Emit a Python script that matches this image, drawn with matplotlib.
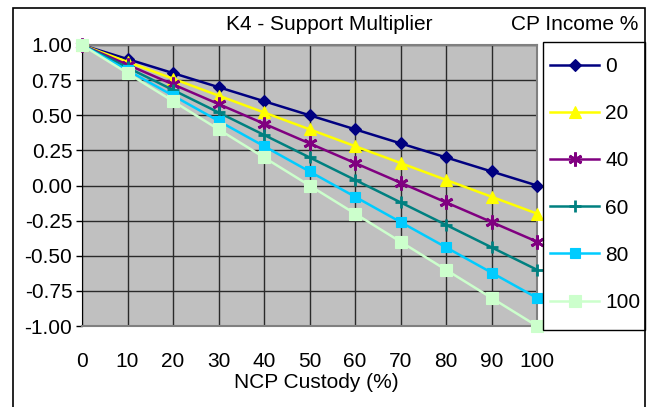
import matplotlib
matplotlib.use("Agg")
import matplotlib.pyplot as plt
from matplotlib.patches import Rectangle

plt.rcParams['font.family'] = ['Liberation Sans', 'DejaVu Sans']

# NCP custody on x, one series per CP income level
custody = [0, 10, 20, 30, 40, 50, 60, 70, 80, 90, 100]
inc_0 = [1.00, 0.90, 0.80, 0.70, 0.60, 0.50, 0.40, 0.30, 0.20, 0.10, 0.00]
inc_20 = [1.00, 0.88, 0.76, 0.64, 0.52, 0.40, 0.28, 0.16, 0.04, -0.08, -0.20]
inc_40 = [1.00, 0.86, 0.72, 0.58, 0.44, 0.30, 0.16, 0.02, -0.12, -0.26, -0.40]
inc_60 = [1.00, 0.84, 0.68, 0.52, 0.36, 0.20, 0.04, -0.12, -0.28, -0.44, -0.60]
inc_80 = [1.00, 0.82, 0.64, 0.46, 0.28, 0.10, -0.08, -0.26, -0.44, -0.62, -0.80]
inc_100 = [1.00, 0.80, 0.60, 0.40, 0.20, 0.00, -0.20, -0.40, -0.60, -0.80, -1.00]
labels = ['0', '20', '40', '60', '80', '100']
yticks = [1.00, 0.75, 0.50, 0.25, 0.00, -0.25, -0.50, -0.75, -1.00]

series = [inc_0, inc_20, inc_40, inc_60, inc_80, inc_100]
colors = ['#000080', '#FFFF00', '#800080', '#008080', '#00CCFF', '#CCFFCC']
markers = ['D', '^', (6, 2, 0), '+', 's', 's']
msizes = [6, 8, 10, 9, 7, 8]
FS = 15

W, H = 650, 407
fig = plt.figure(figsize=(6.5, 4.07), dpi=100)
ax = fig.add_axes([82 / W, 1 - 326 / H, 455 / W, 281 / H])
ax.set_facecolor('#C0C0C0')

for ys, c, m, ms, lab in zip(series, colors, markers, msizes, labels):
    ax.plot(custody, ys, color=c, marker=m, markersize=ms, lw=1.8,
            markeredgewidth=2 if m in ('+', (6, 2, 0)) else 0.8,
            markeredgecolor=c, label=lab, clip_on=False, zorder=3)

ax.set_xlim(0, 100)
ax.set_ylim(-1, 1)
ax.set_xticks(custody)
ax.set_yticks(yticks)
ax.set_yticklabels(['%.2f' % v for v in yticks])
ax.grid(True, color='#2a2a2a', lw=1)
ax.tick_params(axis='y', labelsize=FS, length=4, width=1, pad=3)
ax.tick_params(axis='x', labelsize=FS, length=0, pad=19)
for s in ['top', 'right', 'bottom']:
    ax.spines[s].set_color('#808080')
    ax.spines[s].set_linewidth(1.5)
ax.spines['left'].set_color('black')

fig.text(329 / W, 1 - 25 / H, 'K4 - Support Multiplier', fontsize=FS,
         ha='center', va='center')
fig.text(638 / W, 1 - 25 / H, 'CP Income %', fontsize=FS,
         ha='right', va='center')
fig.text(316 / W, 1 - 383 / H, 'NCP Custody (%)', fontsize=FS,
         ha='center', va='center')

# legend entries without frame; box drawn separately
fig.legend(loc='upper left', bbox_to_anchor=(544 / W, 1 - 51 / H),
           fontsize=FS, frameon=False,
           labelspacing=1.35, handlelength=2.35, handletextpad=0.3,
           borderpad=0.3, borderaxespad=0)
fig.patches.append(Rectangle((543 / W, 1 - 330 / H), 102 / W, 288 / H,
                             transform=fig.transFigure, fill=False,
                             edgecolor='black', lw=1))

fig.patches.append(Rectangle((13 / W, -0.05), 632 / W, 1.05 - 8 / H,
                             transform=fig.transFigure, fill=False,
                             edgecolor='black', lw=1.2))

fig.savefig('out.png', dpi=100)
